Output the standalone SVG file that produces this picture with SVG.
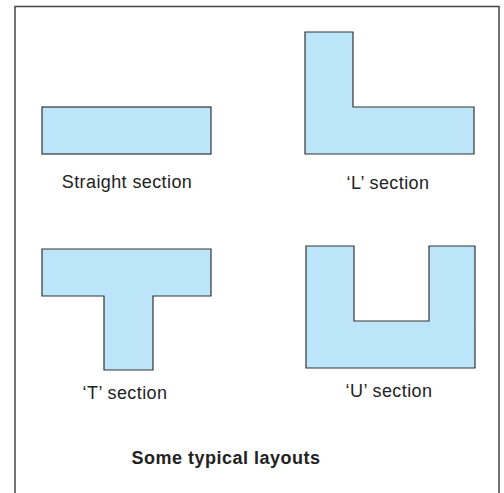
<svg xmlns="http://www.w3.org/2000/svg" width="504" height="493" viewBox="0 0 504 493">
<style>
.shape{fill:#bce5f9;stroke:#333;stroke-width:1.2}
.lbl{font-family:"Liberation Sans",Arial,sans-serif;font-size:18px;fill:#222;text-anchor:middle;letter-spacing:0.4px}
.title{font-family:"Liberation Sans",Arial,sans-serif;font-size:18px;font-weight:bold;fill:#222;text-anchor:middle;letter-spacing:0.5px}
</style>
<rect x="0" y="0" width="504" height="493" fill="#fff"/>
<path id="frame" d="M15,500 V6.5 H499 V500" fill="none" stroke="#444" stroke-width="1.5"/>
<g id="straight">
<rect class="shape" x="42" y="107" width="169" height="47"/>
<text class="lbl" x="127" y="188">Straight section</text>
</g>
<g id="l-section">
<polygon class="shape" points="305,32 353,32 353,107 474,107 474,154 305,154"/>
<text class="lbl" x="388" y="189">‘L’ section</text>
</g>
<g id="t-section">
<polygon class="shape" points="42,249 211,249 211,296 153,296 153,370 104,370 104,296 42,296"/>
<text class="lbl" x="125" y="399">‘T’ section</text>
</g>
<g id="u-section">
<polygon class="shape" points="306,246 354,246 354,321 429,321 429,246 475,246 475,368 306,368"/>
<text class="lbl" x="389" y="397">‘U’ section</text>
</g>
<text class="title" x="226" y="464">Some typical layouts</text>
<g id="connectors"/>
</svg>
